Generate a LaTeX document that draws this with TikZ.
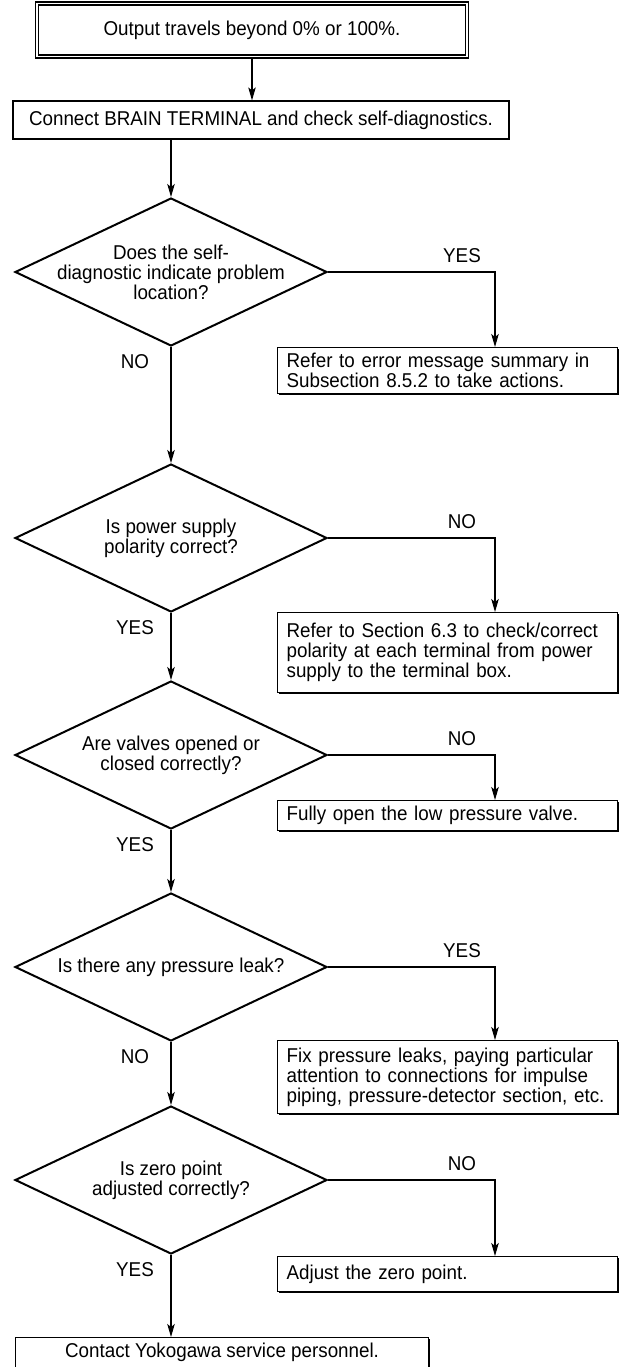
\documentclass[tikz,border=0pt]{standalone}
\usepackage{fontspec}
\setmainfont{Liberation Sans}[FakeStretch=0.94]
\usetikzlibrary{arrows.meta,shapes.geometric,shadows,calc}
\begin{document}
\begin{tikzpicture}[x=1pt,y=-1pt,
  every node/.style={font=\fontsize{20}{20}\selectfont},
  dia/.style={draw, diamond, line width=2pt, minimum width=312pt, minimum height=148pt, inner sep=0pt},
  shbox/.style={draw, line width=1.2pt, fill=white,
    drop shadow={shadow xshift=1.4pt, shadow yshift=-1.4pt, opacity=1, fill=black}},
  actbox/.style={shbox, anchor=north west, minimum width=340pt, text width=322pt, inner xsep=9pt, inner ysep=0pt, align=left},
  conn/.style={line width=1.1pt},
  arr/.style={conn, -{Stealth[length=13pt,width=7.5pt,inset=3pt]}},
  lbl/.style={inner sep=0pt}
]
\useasboundingbox (0,0) rectangle (623,1367);

% start box
\node[draw, double, double distance=1.6pt, line width=1.3pt, minimum width=430pt, minimum height=53pt, inner sep=0pt] (b1) at (252,30) {Output travels beyond 0\% or 100\%.};
\node[shbox, minimum width=496pt, minimum height=38pt, inner sep=0pt] (b2) at (261,120) {Connect BRAIN TERMINAL and check self-diagnostics.};

% decisions
\node[dia] (d1) at (171,272) {};
\node[align=center] at (d1) {Does the self-\\diagnostic indicate problem\\location?};
\node[dia] (d2) at (171,538) {};
\node[align=center] at (d2) {Is power supply\\polarity correct?};
\node[dia] (d3) at (171,755) {};
\node[align=center] at (d3) {Are valves opened or\\closed correctly?};
\node[dia] (d4) at (171,967) {};
\node[align=center] at (d4) {Is there any pressure leak?};
\node[dia] (d5) at (171,1180) {};
\node[align=center] at (d5) {Is zero point\\adjusted correctly?};

% actions
\node[actbox, minimum height=46pt] (b3) at (277,347) {Refer to error message summary in\\Subsection 8.5.2 to take actions.};
\node[actbox, minimum height=80pt] (b4) at (277,612) {Refer to Section 6.3 to check/correct\\polarity at each terminal from power\\supply to the terminal box.};
\node[actbox, minimum height=30pt] (b5) at (277,800) {Fully open the low pressure valve.};
\node[actbox, minimum height=73pt] (b6) at (277,1040) {Fix pressure leaks, paying particular\\attention to connections for impulse\\piping, pressure-detector section, etc.};
\node[actbox, minimum height=35pt] (b7) at (277,1256) {Adjust the zero point.};
\node[shbox, anchor=north west, minimum width=413pt, minimum height=60pt] (b8) at (15,1337) {};
\node at ($(b8.north)+(0,15)$) (t8) {Contact Yokogawa service personnel.};

% connectors
\draw[arr] (b1.south) -- (b1.south |- b2.north);
\draw[arr] (b2.south -| d1.north) -- (d1.north);
\draw[arr] (d1.east) -| ($(b3.north west)+(218,0)$);
\draw[arr] (d1.south) -- (d2.north);
\draw[arr] (d2.east) -| ($(b4.north west)+(218,0)$);
\draw[arr] (d2.south) -- (d3.north);
\draw[arr] (d3.east) -| ($(b5.north west)+(218,0)$);
\draw[arr] (d3.south) -- (d4.north);
\draw[arr] (d4.east) -| ($(b6.north west)+(218,0)$);
\draw[arr] (d4.south) -- (d5.north);
\draw[arr] (d5.east) -| ($(b7.north west)+(218,0)$);
\draw[arr] (d5.south) -- (d5.south |- b8.north);

% labels
\node[lbl] (l1r) at (462,256) {YES};
\node[lbl] (l1d) at (135,362) {NO};
\node[lbl] (l2r) at (462,522) {NO};
\node[lbl] (l2d) at (135,628) {YES};
\node[lbl] (l3r) at (462,739) {NO};
\node[lbl] (l3d) at (135,845) {YES};
\node[lbl] (l4r) at (462,951) {YES};
\node[lbl] (l4d) at (135,1057) {NO};
\node[lbl] (l5r) at (462,1164) {NO};
\node[lbl] (l5d) at (135,1270) {YES};
\end{tikzpicture}
\end{document}
